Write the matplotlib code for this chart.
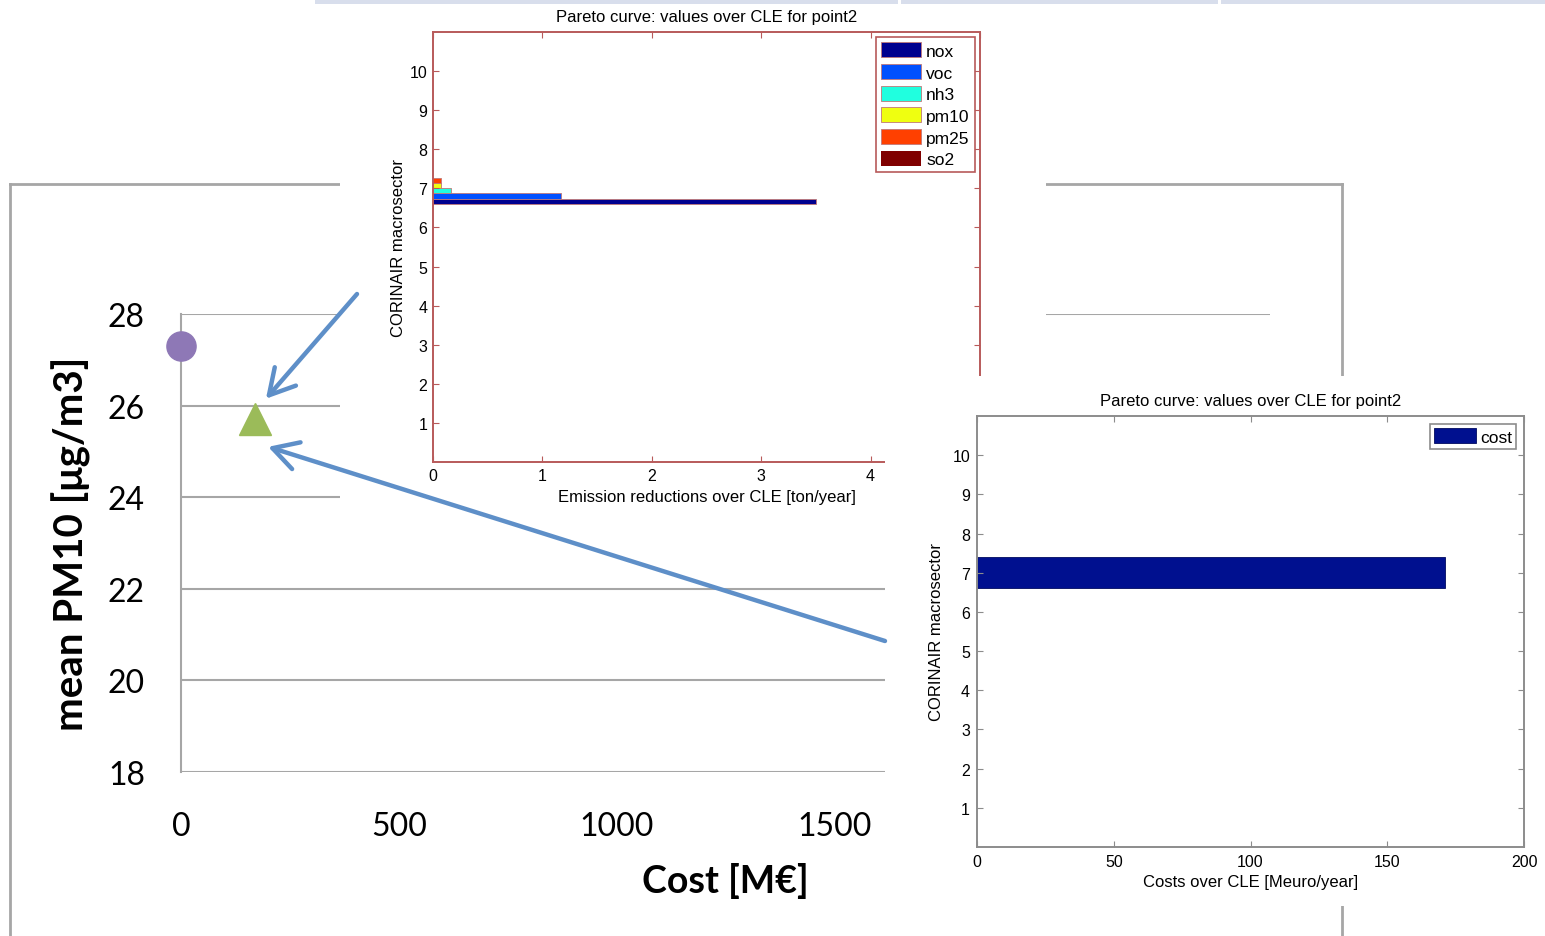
import matplotlib
matplotlib.use("Agg")
import matplotlib.pyplot as plt
from matplotlib.lines import Line2D
from matplotlib.patches import Rectangle
from matplotlib.text import Annotation
import numpy as np

# ---------------- data ----------------
# main scatter (Pareto points)
cost_points = [0, 170]
pm10_points = [27.3, 25.7]
point_colors = ["#8E78B6", "#9BBB59"]
point_markers = ["o", "^"]
main_xticks = [0, 500, 1000, 1500, 2000, 2500]
main_yticks = [18, 20, 22, 24, 26, 28]

# inset 1: emission reductions per pollutant (macrosector 7)
pollutants = ["nox", "voc", "nh3", "pm10", "pm25", "so2"]
emission_red = [3.5, 1.17, 0.16, 0.07, 0.07, 0.0]
pollutant_colors = ["#00008F", "#0050FF", "#20FFDF", "#EFFF10", "#FF4000", "#800000"]
macrosector = 7
inset1_xticks = [0, 1, 2, 3, 4, 5]
sector_ticks = [1, 2, 3, 4, 5, 6, 7, 8, 9, 10]

# inset 2: cost per macrosector
cost_labels = ["cost"]
cost_values = [171]
inset2_xticks = [0, 50, 100, 150, 200]

W, H = 1545, 937
fig = plt.figure(figsize=(W / 100, H / 100), dpi=100)
fig.patch.set_facecolor("white")

def rect(x0, y0, x1, y1):
    return [x0 / W, 1 - y1 / H, (x1 - x0) / W, (y1 - y0) / H]

MAINFONT = ["Lato", "DejaVu Sans"]
MATFONT = ["Liberation Sans", "DejaVu Sans"]
GRID = "#A6A6A6"

# ---------------- main chart ----------------
ax = fig.add_axes(rect(181, 315, 1270, 773), zorder=0)
ax.set_facecolor("none")
ax.set_xlim(0, 2500)
ax.set_ylim(18, 28)
ax.set_xticks(main_xticks)
ax.set_yticks(main_yticks)
for s in ["top", "right", "bottom"]:
    ax.spines[s].set_visible(False)
ax.spines["left"].set_color(GRID)
ax.spines["left"].set_linewidth(1.5)
ax.grid(axis="y", color=GRID, linewidth=1.5)
ax.set_axisbelow(True)
ax.tick_params(axis="both", length=0, labelsize=23)
ax.tick_params(axis="y", pad=26)
ax.tick_params(axis="x", pad=28)
for lab in ax.get_xticklabels() + ax.get_yticklabels():
    lab.set_fontfamily(MAINFONT)
for x, y, c, m in zip(cost_points, pm10_points, point_colors, point_markers):
    ax.plot([x], [y], marker=m, color=c, markersize=21 if m == "o" else 23,
            linestyle="none", clip_on=False, zorder=3)
ax.set_xlabel("Cost [M€]", fontsize=27, fontweight="bold", family=MAINFONT)
ax.set_ylabel("mean PM10 [μg/m3]", fontsize=29, fontweight="bold", family=MAINFONT)
ax.xaxis.set_label_coords(0.5, -0.196)
ax.yaxis.set_label_coords(-0.083, 0.5)

# outer slide frame
for xs, ys in [([10, 1342], [185, 185]), ([10, 10], [185, 937]), ([1342, 1342], [185, 937])]:
    fig.add_artist(Line2D([v / W for v in xs], [1 - v / H for v in ys],
                          transform=fig.transFigure, color=GRID, lw=2, zorder=0.5))

# ---------------- inset 1 ----------------
fig.add_artist(Rectangle((340 / W, 1 - 512 / H), 706 / W, 507 / H, transform=fig.transFigure,
                         facecolor="white", edgecolor="none", zorder=1))
RED = "#B85A5A"
a1 = fig.add_axes(rect(433, 33, 980, 463), zorder=2)
a1.set_xlim(0, 5)
a1.set_ylim(0, 11)
bh = 0.13
for i, (p, v, c) in enumerate(zip(pollutants, emission_red, pollutant_colors)):
    a1.barh(macrosector + (i - 2.5) * bh, v, height=bh, color=c, edgecolor="#C07878",
            linewidth=0.6 if v > 0 else 0, label=p)
a1.set_xticks(inset1_xticks)
a1.set_yticks(sector_ticks)
for s in a1.spines.values():
    s.set_color(RED)
    s.set_linewidth(1.4)
a1.tick_params(direction="in", length=4, top=True, right=True, colors=RED,
               labelcolor="black", labelsize=11.5, pad=4)
for lab in a1.get_xticklabels() + a1.get_yticklabels():
    lab.set_fontfamily(MATFONT)
a1.set_title("Pareto curve: values over CLE for point2", fontsize=12, family=MATFONT, pad=8)
a1.set_xlabel("Emission reductions over CLE [ton/year]", fontsize=12, family=MATFONT, labelpad=5)
a1.set_ylabel("CORINAIR macrosector", fontsize=12, family=MATFONT, labelpad=3)
leg1 = a1.legend(loc="upper right", prop={"family": MATFONT, "size": 12.5},
                 fancybox=False, edgecolor=RED, framealpha=1, borderaxespad=0.3,
                 handlelength=2.3, handleheight=0.95, labelspacing=0.3,
                 handletextpad=0.3, borderpad=0.3)
leg1.get_frame().set_linewidth(1.2)

# ---------------- inset 2 ----------------
fig.add_artist(Rectangle((885 / W, 1 - 907 / H), 660 / W, 530 / H, transform=fig.transFigure,
                         facecolor="white", edgecolor="none", zorder=3))
GRAY = "#8C8C8C"
a2 = fig.add_axes(rect(977, 417, 1524, 848), zorder=4)
a2.set_xlim(0, 200)
a2.set_ylim(0, 11)
a2.barh([macrosector], cost_values, height=0.8, color="#00108F", edgecolor="#000A60",
        linewidth=0.6, label=cost_labels[0])
a2.set_xticks(inset2_xticks)
a2.set_yticks(sector_ticks)
for s in a2.spines.values():
    s.set_color(GRAY)
    s.set_linewidth(1.4)
a2.tick_params(direction="in", length=4, top=True, right=True, colors=GRAY,
               labelcolor="black", labelsize=11.5, pad=5)
for lab in a2.get_xticklabels() + a2.get_yticklabels():
    lab.set_fontfamily(MATFONT)
a2.set_title("Pareto curve: values over CLE for point2", fontsize=12, family=MATFONT, pad=8)
a2.set_xlabel("Costs over CLE [Meuro/year]", fontsize=12, family=MATFONT, labelpad=4)
a2.set_ylabel("CORINAIR macrosector", fontsize=12, family=MATFONT, labelpad=6)
leg2 = a2.legend(loc="upper right", prop={"family": MATFONT, "size": 12.5},
                 fancybox=False, edgecolor=GRAY, framealpha=1, borderaxespad=0.45,
                 handlelength=2.4, handleheight=0.95, handletextpad=0.25, borderpad=0.25)
leg2.get_frame().set_linewidth(1.2)

# ---------------- arrows ----------------
ARROW = "#5E8FC8"
for tip, tail in [((195, 26.15), (357 / W, 1 - 295 / H)),
                  ((200, 25.1), (885 / W, 1 - 642 / H))]:
    ann = Annotation("", xy=tip, xycoords=ax.transData, xytext=tail,
                     textcoords="figure fraction",
                     arrowprops=dict(arrowstyle="->,head_length=0.5,head_width=0.28",
                                     color=ARROW, lw=3.2, mutation_scale=36,
                                     shrinkA=0, shrinkB=0))
    ann.set_zorder(5)
    fig.add_artist(ann)

# top header bar remnant
for x0, x1 in [(315, 898), (901, 1218), (1221, 1545)]:
    fig.add_artist(Rectangle((x0 / W, 1 - 5 / H), (x1 - x0) / W, 5 / H, transform=fig.transFigure,
                             facecolor="#D8DEEC", edgecolor="none", zorder=6))

fig.savefig("out.png", dpi=100, facecolor="white")
